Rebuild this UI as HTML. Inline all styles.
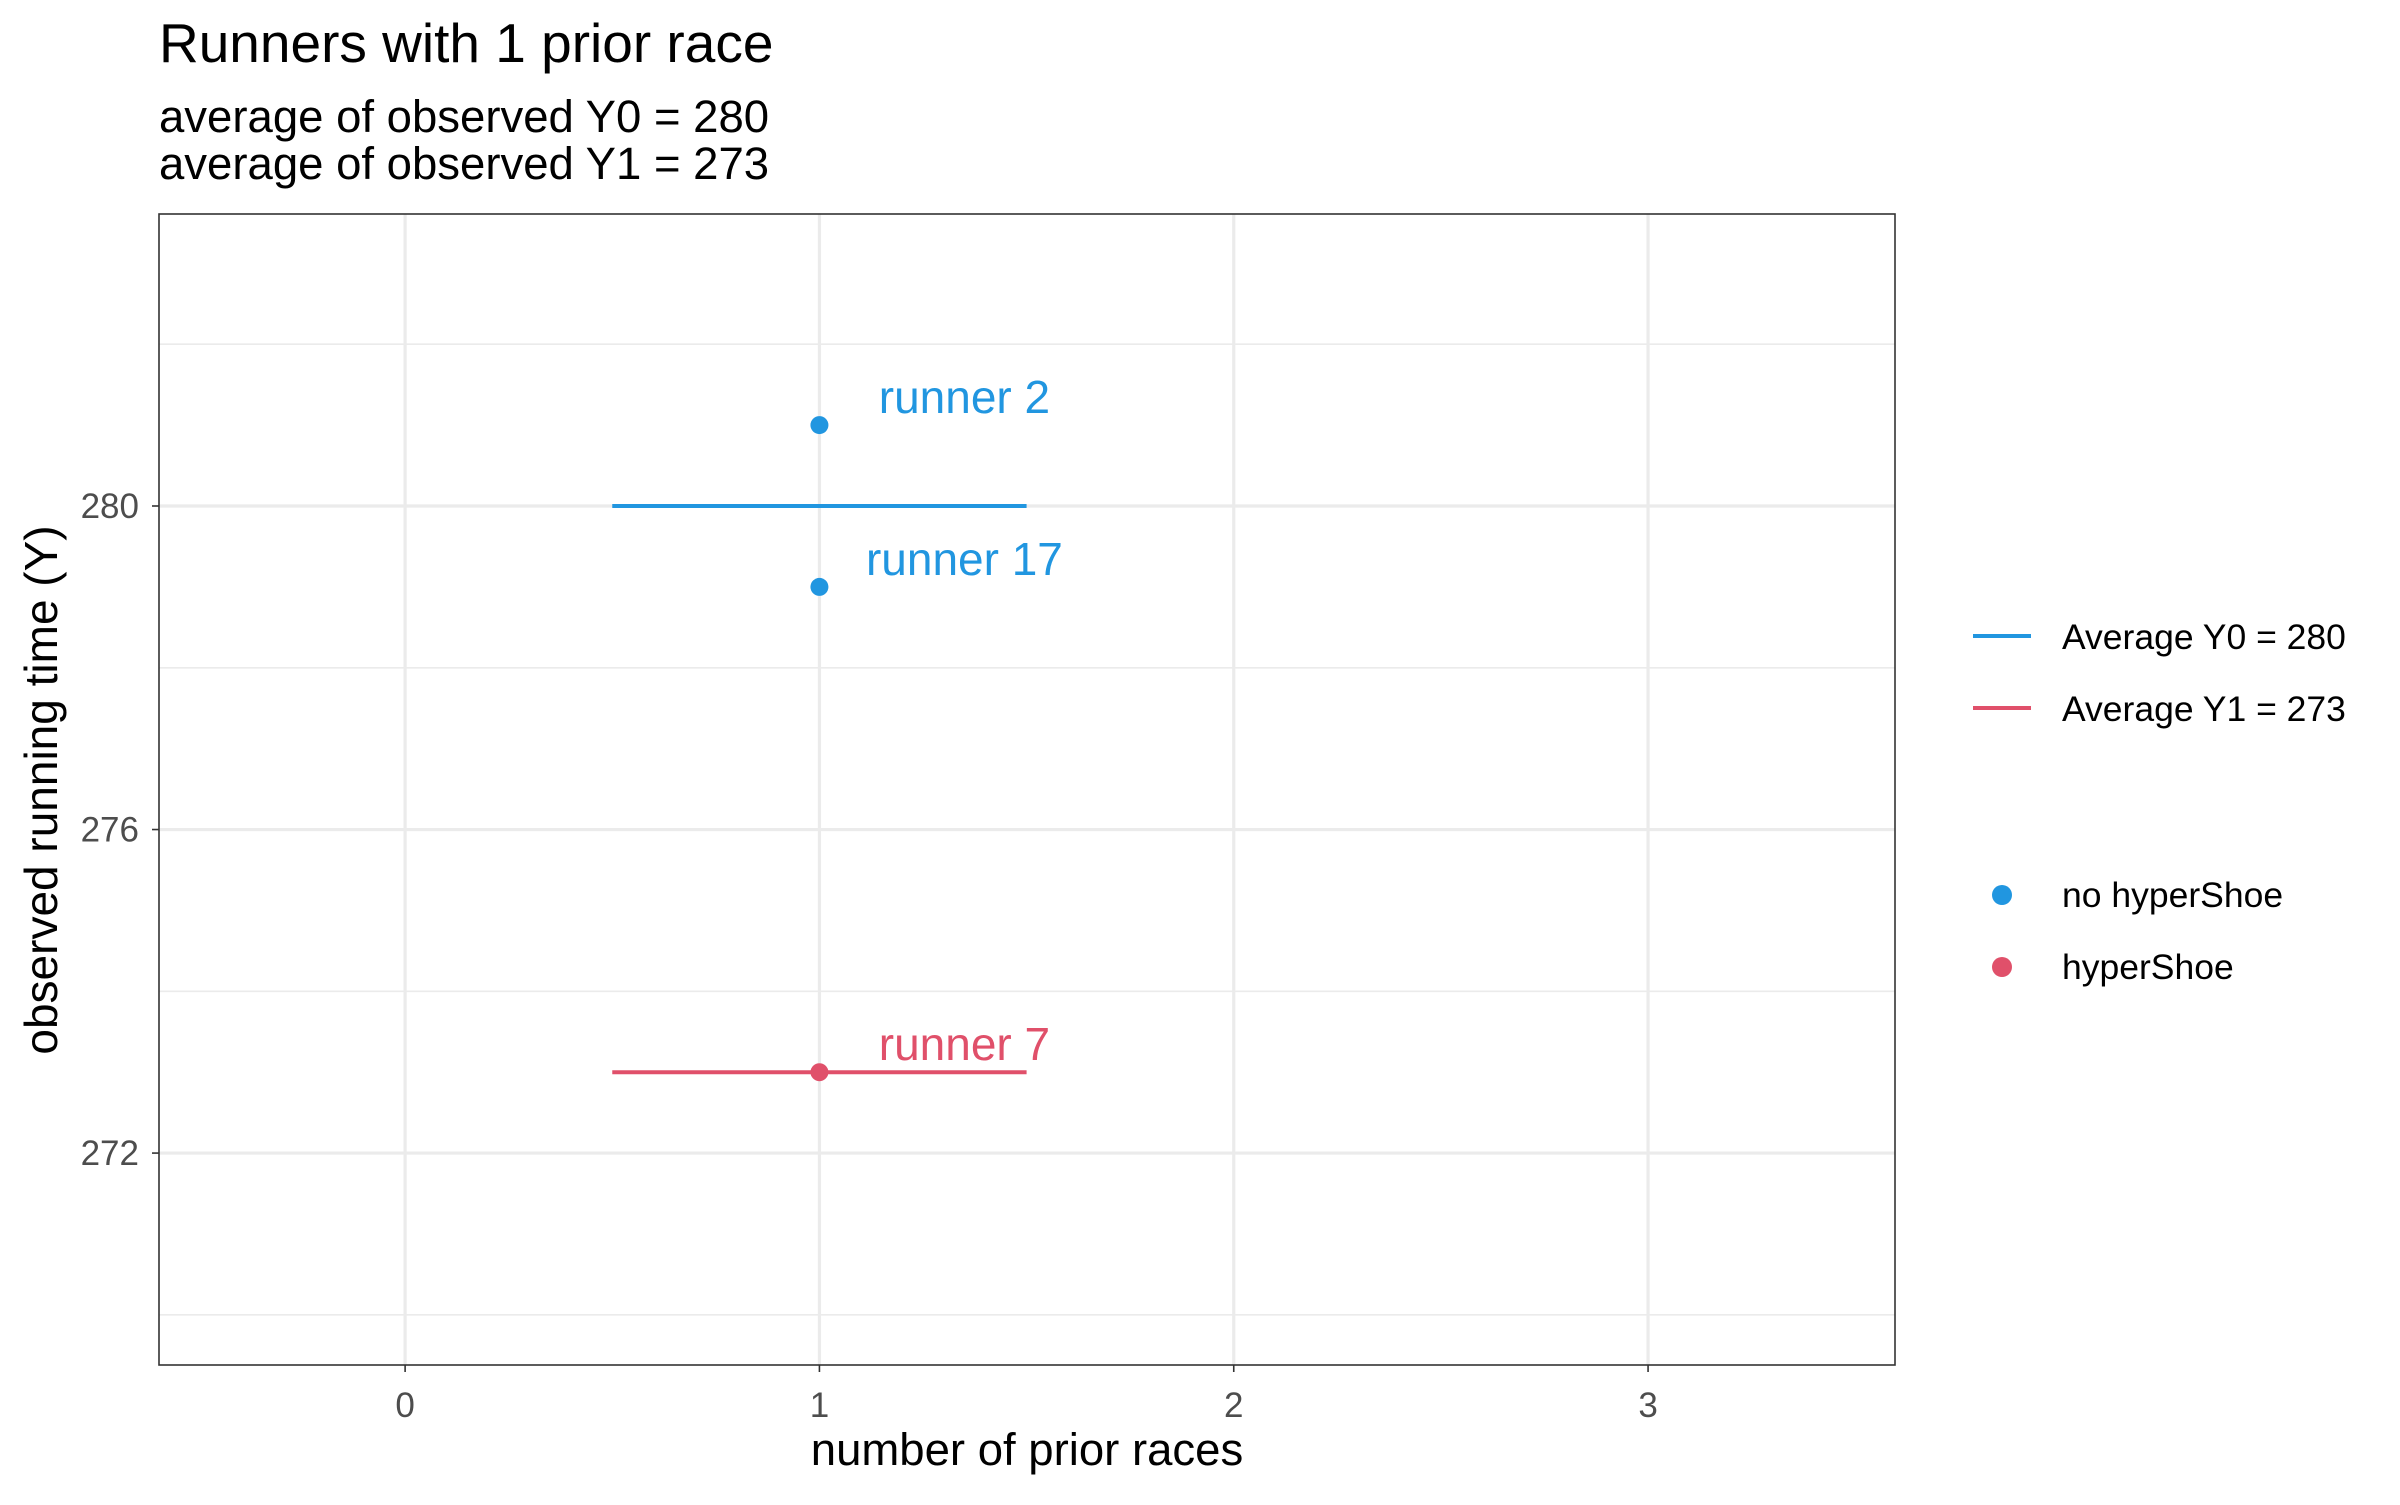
<!DOCTYPE html>
<html><head><meta charset="utf-8"><style>
body{margin:0;background:#fff}
svg text{font-family:"Liberation Sans",sans-serif}
</style></head><body>
<svg id="chart" width="2400" height="1500" xmlns="http://www.w3.org/2000/svg">
<text x="159" y="62" font-size="55" fill="#000">Runners with 1 prior race</text>
<text x="159" y="132" font-size="45.5" fill="#000">average of observed Y0 = 280</text>
<text x="159" y="179" font-size="45.5" fill="#000">average of observed Y1 = 273</text>
<g id="grid"></g>
<g id="marks"></g>
<rect x="159" y="214" width="1736" height="1151" fill="none" stroke="#333" stroke-width="1.6"/>
<g id="axes"></g>
<text x="1027" y="1465" font-size="45.5" text-anchor="middle" fill="#000">number of prior races</text>
<text transform="translate(57,790) rotate(-90)" font-size="46" text-anchor="middle" fill="#000">observed running time (Y)</text>
<g>
<line x1="1973" x2="2031" y1="636" y2="636" stroke="#2196E0" stroke-width="4"/>
<text x="2062" y="649" font-size="35.5" fill="#000">Average Y0 = 280</text>
<line x1="1973" x2="2031" y1="708" y2="708" stroke="#E0506A" stroke-width="4"/>
<text x="2062" y="721" font-size="35.5" fill="#000">Average Y1 = 273</text>
<circle cx="2002" cy="895" r="10" fill="#2196E0"/>
<text x="2062" y="907" font-size="35.5" fill="#000">no hyperShoe</text>
<circle cx="2002" cy="967" r="10" fill="#E0506A"/>
<text x="2062" y="979" font-size="35.5" fill="#000">hyperShoe</text>
</g>
</svg>
<script>
const xTicks=[0,1,2,3];
const yTicks=[272,276,280];
const yMinor=[270,274,278,282];
const runnerNames=["runner 2","runner 17","runner 7"];
const runnerX=[1,1,1];
const runnerY=[281,279,273];
const runnerGroup=[0,0,1];
const avgValues=[280,273];
const avgStart=[0.5,0.5];
const avgEnd=[1.5,1.5];
const colors=["#2196E0","#E0506A"];
const L=159,R=1895,T=214,B=1365,xMin=-0.594,xMax=3.596,yMin=269.38,yMax=283.61;
const sx=v=>L+(v-xMin)/(xMax-xMin)*(R-L);
const sy=v=>B-(v-yMin)/(yMax-yMin)*(B-T);
const NS="http://www.w3.org/2000/svg";
function mk(p,tag,a){const e=document.createElementNS(NS,tag);for(const k in a)e.setAttribute(k,a[k]);p.appendChild(e);return e;}
const grid=document.getElementById('grid'),marks=document.getElementById('marks'),axes=document.getElementById('axes');
yMinor.forEach(v=>{const e=mk(grid,'line',{x1:L,x2:R,y1:sy(v),y2:sy(v),stroke:'#ebebeb','stroke-width':1.6});

});
yTicks.forEach(v=>{const e=mk(grid,'line',{x1:L,x2:R,y1:sy(v),y2:sy(v),stroke:'#ebebeb','stroke-width':3.2});


const t=mk(axes,'line',{x1:L-7,x2:L,y1:sy(v),y2:sy(v),stroke:'#333','stroke-width':1.6});


const l=mk(axes,'text',{x:L-20,y:sy(v)+12,'font-size':35,'text-anchor':'end',fill:'#4d4d4d'});l.textContent=v;

});
xTicks.forEach(v=>{const e=mk(grid,'line',{x1:sx(v),x2:sx(v),y1:T,y2:B,stroke:'#ebebeb','stroke-width':3.2});


const t=mk(axes,'line',{x1:sx(v),x2:sx(v),y1:B,y2:B+7,stroke:'#333','stroke-width':1.6});


const l=mk(axes,'text',{x:sx(v),y:B+52,'font-size':35,'text-anchor':'middle',fill:'#4d4d4d'});l.textContent=v;

});
avgValues.forEach((v,i)=>{const e=mk(marks,'line',{x1:sx(avgStart[i]),x2:sx(avgEnd[i]),y1:sy(v),y2:sy(v),stroke:colors[i],'stroke-width':4});

});
runnerY.forEach((v,i)=>{const c=mk(marks,'circle',{cx:sx(runnerX[i]),cy:sy(v),r:9,fill:colors[runnerGroup[i]]});


const t=mk(marks,'text',{x:sx(runnerX[i]+0.35),y:sy(v)-12,'font-size':46,'text-anchor':'middle',fill:colors[runnerGroup[i]]});t.textContent=runnerNames[i];

});
</script>
</body></html>
